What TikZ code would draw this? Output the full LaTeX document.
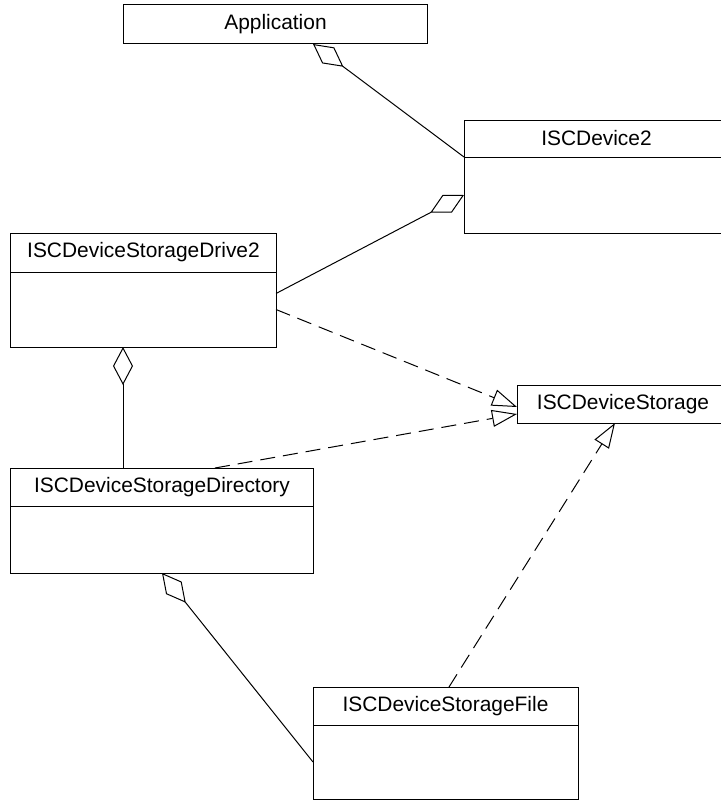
\documentclass[tikz,border=0pt]{standalone}
\usepackage{fontspec}
\setmainfont{Liberation Sans}
\usetikzlibrary{arrows.meta, positioning}

\begin{document}
\begin{tikzpicture}[
    x=1bp, y=-1bp, line width=1bp,
    classhead/.style={rectangle, draw, inner sep=0pt, outer sep=0pt,
                minimum width=#1, minimum height=38bp,
                font=\fontsize{21}{25}\selectfont},
    classbody/.style={rectangle, draw, inner sep=0pt, outer sep=0pt,
                minimum width=#1},
    aggr/.style={{Diamond[open, length=38bp, width=20bp]}-},
    realize/.style={-{Triangle[open, length=25bp, width=17bp]},
                dash pattern=on 15bp off 8bp}
]
\useasboundingbox (0,0) rectangle (721,800);
\clip (0,0) rectangle (721,800);

\node[classhead=303bp, minimum height=39bp] (app) at (275.5,24.5) {Application};

\node[classhead=265bp, minimum height=37bp] (dev) at (596.5,138.5) {ISCDevice2};
\node[classbody=265bp, minimum height=76bp, below=0pt of dev] (devbody) {};

\node[classhead=265bp, minimum height=39bp] (drive) at (143.5,252.5) {ISCDeviceStorageDrive2};
\node[classbody=265bp, minimum height=75bp, below=0pt of drive] (drivebody) {};

\node[classhead=212bp] (storage) at (623,404) {ISCDeviceStorage};

\node[classhead=302bp] (dir) at (162,487) {ISCDeviceStorageDirectory};
\node[classbody=302bp, minimum height=67bp, below=0pt of dir] (dirbody) {};

\node[classhead=265bp] (file) at (445.5,706) {ISCDeviceStorageFile};
\node[classbody=265bp, minimum height=74bp, below=0pt of file] (filebody) {};

% aggregations
\draw[aggr] ([xshift=37.5bp]app.south) -- (dev.south west);
\draw[aggr] (devbody.west) -- ([yshift=16bp]drivebody.east);
\draw[aggr] ([xshift=-20.5bp]drivebody.south)
    -- ([xshift=-20.5bp]drivebody.south |- dir.north);
\draw[aggr] (dirbody.south) -- (filebody.west);

% realizations
\draw[realize] (drivebody.east) -- ([yshift=-3bp]storage.west);
\draw[realize] ([xshift=53bp]dir.north) -- ([yshift=-10bp]storage.west);
\draw[realize] ([xshift=3.5bp]file.north) -- ([xshift=-8bp]storage.south);
\end{tikzpicture}
\end{document}
